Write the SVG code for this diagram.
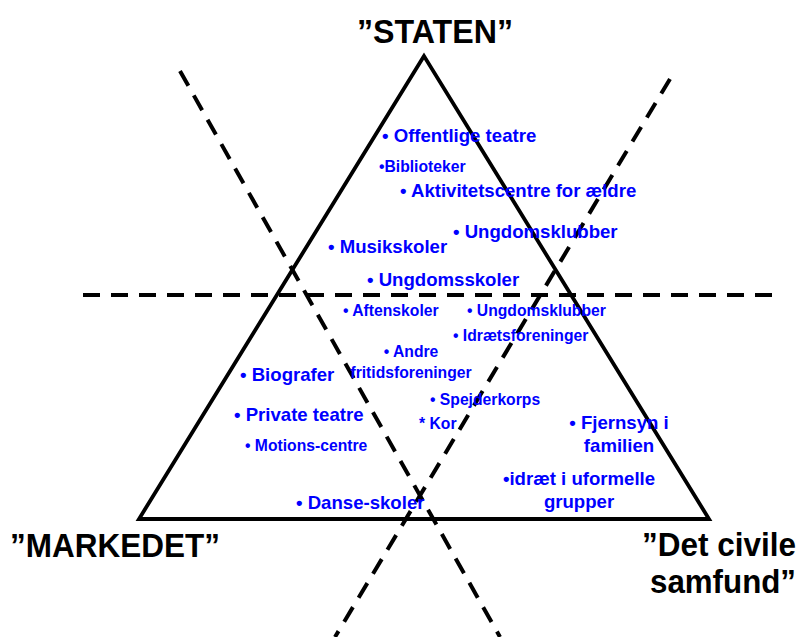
<svg xmlns="http://www.w3.org/2000/svg" width="804" height="637" viewBox="0 0 804 637">
<style>
.big{font-family:"Liberation Sans",Arial,sans-serif;font-weight:bold;font-size:18.6px;fill:#0000FF}
.sm{font-family:"Liberation Sans",Arial,sans-serif;font-weight:bold;font-size:15.7px;fill:#0000FF}
.lbl{font-family:"Liberation Sans",Arial,sans-serif;font-weight:bold;font-size:33px;fill:#000}
.dash{stroke:#000;stroke-width:4;stroke-dasharray:17 11;fill:none}
.tri{stroke:#000;stroke-width:3.8;fill:none;stroke-linejoin:miter}
</style>
<rect width="804" height="637" fill="#fff"/>
<g id="triangle">
<polygon class="tri" points="424,56 139,519 709,519"/>
</g>
<g id="connectors">
<line class="dash" x1="83" y1="295" x2="777" y2="295"/>
<line class="dash" x1="180" y1="71" x2="500" y2="637"/>
<line class="dash" x1="670" y1="79" x2="335" y2="637"/>
</g>
<g id="staten"><text class="lbl" x="357" y="43" textLength="156" lengthAdjust="spacingAndGlyphs">”STATEN”</text></g>
<g id="markedet"><text class="lbl" x="10" y="557" textLength="210" lengthAdjust="spacingAndGlyphs">”MARKEDET”</text></g>
<g id="civile"><text class="lbl" x="642" y="556" textLength="154" lengthAdjust="spacingAndGlyphs">”Det civile</text><text class="lbl" x="650" y="593" textLength="146" lengthAdjust="spacingAndGlyphs">samfund”</text></g>
<g id="n1"><text class="big" x="382" y="142">• Offentlige teatre</text></g>
<g id="n2"><text class="sm" x="379" y="172">•Biblioteker</text></g>
<g id="n3"><text class="big" x="400" y="197">• Aktivitetscentre for ældre</text></g>
<g id="n4"><text class="big" x="453" y="238">• Ungdomsklubber</text></g>
<g id="n5"><text class="big" x="328" y="253">• Musikskoler</text></g>
<g id="n6"><text class="big" x="367" y="286">• Ungdomsskoler</text></g>
<g id="n7"><text class="sm" x="343" y="316">• Aftenskoler</text></g>
<g id="n8"><text class="sm" x="467" y="316">• Ungdomsklubber</text></g>
<g id="n9"><text class="sm" x="453" y="341">• Idrætsforeninger</text></g>
<g id="n10"><text class="sm" x="411" y="357" text-anchor="middle">• Andre</text><text class="sm" x="411" y="378" text-anchor="middle">fritidsforeninger</text></g>
<g id="n11"><text class="big" x="240" y="381">• Biografer</text></g>
<g id="n12"><text class="big" x="234" y="421">• Private teatre</text></g>
<g id="n13"><text class="sm" x="245" y="451">• Motions-centre</text></g>
<g id="n14"><text class="sm" x="430" y="405">• Spejderkorps</text></g>
<g id="n15"><text class="sm" x="419" y="429">* Kor</text></g>
<g id="n16"><text class="big" x="619" y="429" text-anchor="middle">• Fjernsyn i</text><text class="big" x="619" y="452" text-anchor="middle">familien</text></g>
<g id="n17"><text class="big" x="579" y="485" text-anchor="middle">•idræt i uformelle</text><text class="big" x="579" y="508" text-anchor="middle">grupper</text></g>
<g id="n18"><text class="big" x="296" y="509">• Danse-skoler</text></g>
</svg>
